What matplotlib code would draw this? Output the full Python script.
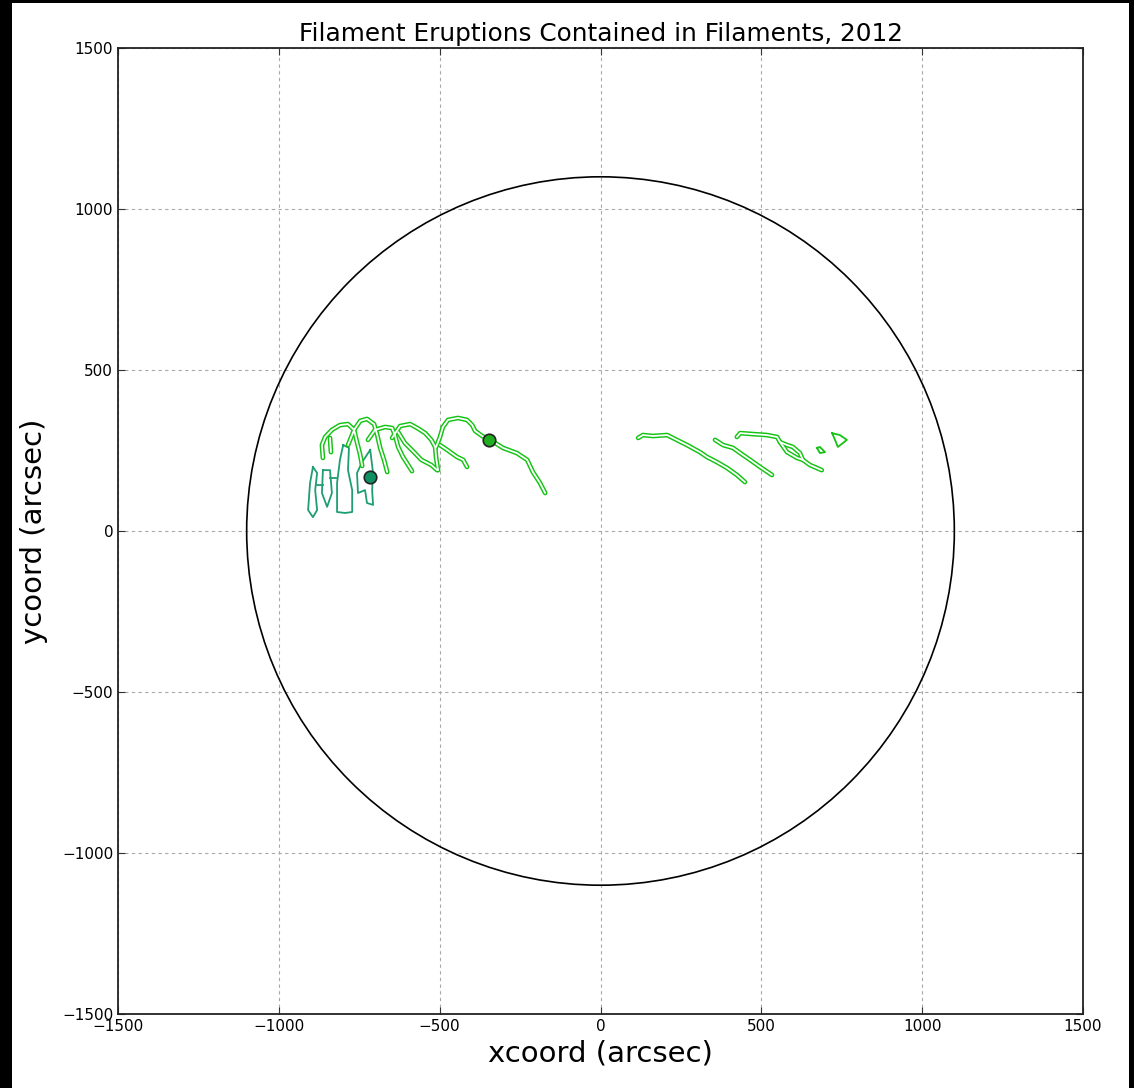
import matplotlib
matplotlib.use("Agg")
import matplotlib.pyplot as plt
from matplotlib.patches import Circle, Rectangle

# solar disk radius (arcsec)
sun_radius = 1100

# filament outlines, bright green group (x, y in arcsec)
arc1_x = [-863, -866, -856, -835, -810, -785, -766, -757, -747, -741]
arc1_y = [227, 267, 292, 314, 329, 332, 314, 276, 236, 202]
arc2_x = [-785, -766, -747, -726, -704, -694, -685, -673, -663]
arc2_y = [267, 314, 342, 348, 332, 298, 258, 221, 183]
arc3_x = [-723, -701, -670, -648, -639, -629, -614, -598, -586]
arc3_y = [283, 314, 323, 320, 298, 261, 230, 205, 186]
arc4_x = [-648, -623, -592, -570, -545, -526, -514, -511, -505]
arc4_y = [289, 326, 332, 320, 304, 283, 261, 227, 189]
arc4b_x = [-629, -608, -580, -557, -526, -508]
arc4b_y = [307, 273, 245, 221, 205, 189]
arc5_x = [-511, -499, -490, -474, -443, -415, -399, -390, -368, -343, -303, -260, -228, -210, -188, -172]
arc5_y = [261, 292, 323, 345, 351, 345, 329, 311, 295, 283, 258, 242, 221, 183, 149, 118]
arc5b_x = [-499, -477, -446, -427, -415]
arc5b_y = [267, 252, 230, 221, 199]
stub_x = [-841, -838]
stub_y = [289, 245]

r1_x = [117, 132, 163, 207, 225, 269, 309, 331, 362, 393, 424, 449]
r1_y = [289, 298, 295, 298, 289, 267, 245, 230, 214, 196, 174, 152]
r2_x = [356, 381, 412, 443, 465, 496, 533]
r2_y = [283, 267, 258, 236, 221, 199, 174]
r3_x = [424, 434, 474, 517, 549, 558, 580, 598, 620, 629, 651, 688]
r3_y = [292, 304, 301, 298, 292, 276, 267, 261, 242, 221, 205, 189]
r3b_x = [558, 580, 611, 629]
r3b_y = [276, 245, 227, 221]
r4_x = [673, 682, 698, 682, 673]
r4_y = [258, 261, 245, 242, 258]
r5_x = [720, 744, 766, 738, 729, 720]
r5_y = [304, 298, 283, 261, 283, 304]

# teal group
t1_x = [-894, -881, -887, -881, -894, -909, -903, -894]
t1_y = [199, 180, 127, 65, 43, 65, 149, 199]
t2_x = [-863, -841, -835, -850, -866, -863]
t2_y = [189, 189, 118, 75, 118, 189]
t3_x = [-800, -782, -785, -772, -772, -794, -819, -819, -810, -800]
t3_y = [267, 258, 189, 127, 59, 56, 59, 149, 221, 267]
t4_x = [-716, -707, -710, -707, -726, -732, -754, -757, -741, -716]
t4_y = [252, 180, 127, 81, 87, 127, 118, 180, 214, 252]
c1_x = [-881, -863]
c1_y = [143, 143]
c2_x = [-841, -819]
c2_y = [165, 165]

# eruption positions
erupt_x = [-347, -716]
erupt_y = [283, 168]

green = '#14c314'
teal = '#1f9e72'

fig = plt.figure(figsize=(11.34, 10.88), dpi=100, facecolor='black')
fig.patches.append(Rectangle((12/1134, 0), (1129-12)/1134, 1085/1088,
                             transform=fig.transFigure, facecolor='white',
                             edgecolor='none', zorder=-1))
ax = fig.add_axes([0.10406, 0.06801, 0.85097, 0.88787])

ax.add_patch(Circle((0, 0), sun_radius, fill=False, edgecolor='black', linewidth=1.2))

outlined = [(arc1_x, arc1_y), (arc2_x, arc2_y), (arc3_x, arc3_y), (arc4_x, arc4_y),
            (arc4b_x, arc4b_y), (arc5_x, arc5_y), (arc5b_x, arc5b_y), (stub_x, stub_y),
            (r1_x, r1_y), (r2_x, r2_y), (r3_x, r3_y), (r3b_x, r3b_y)]
for xs, ys in outlined:
    ax.plot(xs, ys, color=green, linewidth=3.4, solid_capstyle='round', zorder=3)
for xs, ys in outlined:
    ax.plot(xs, ys, color='white', linewidth=1.3, solid_capstyle='round', zorder=4)
for xs, ys in [(r4_x, r4_y), (r5_x, r5_y)]:
    ax.plot(xs, ys, color=green, linewidth=1.3, zorder=3)
for xs, ys in [(t1_x, t1_y), (t2_x, t2_y), (t3_x, t3_y), (t4_x, t4_y),
               (c1_x, c1_y), (c2_x, c2_y)]:
    ax.plot(xs, ys, color=teal, linewidth=1.3, zorder=2)

ax.plot(erupt_x[0], erupt_y[0], 'o', markersize=9, markerfacecolor='#1fae1f',
        markeredgecolor='#222222', markeredgewidth=1.2, zorder=5)
ax.plot(erupt_x[1], erupt_y[1], 'o', markersize=9, markerfacecolor='#0e9160',
        markeredgecolor='#222222', markeredgewidth=1.2, zorder=5)

ax.set_xlim(-1500, 1500)
ax.set_ylim(-1500, 1500)
ax.set_xticks(range(-1500, 1501, 500))
ax.set_yticks(range(-1500, 1501, 500))
ax.grid(True, color='#a8a8a8', linestyle=(0, (3, 3)), linewidth=0.8)
ax.set_axisbelow(True)
ax.tick_params(direction='in', top=True, right=True, length=5, labelsize=11, color='#333333')
for s in ax.spines.values():
    s.set_linewidth(1.3)
    s.set_color('#222222')

ax.set_title('Filament Eruptions Contained in Filaments, 2012', fontsize=17.8, pad=5)
ax.set_xlabel('xcoord (arcsec)', fontsize=21, labelpad=4)
ax.set_ylabel('ycoord (arcsec)', fontsize=21, labelpad=10)

fig.savefig('out.png', dpi=100, facecolor=fig.get_facecolor())
